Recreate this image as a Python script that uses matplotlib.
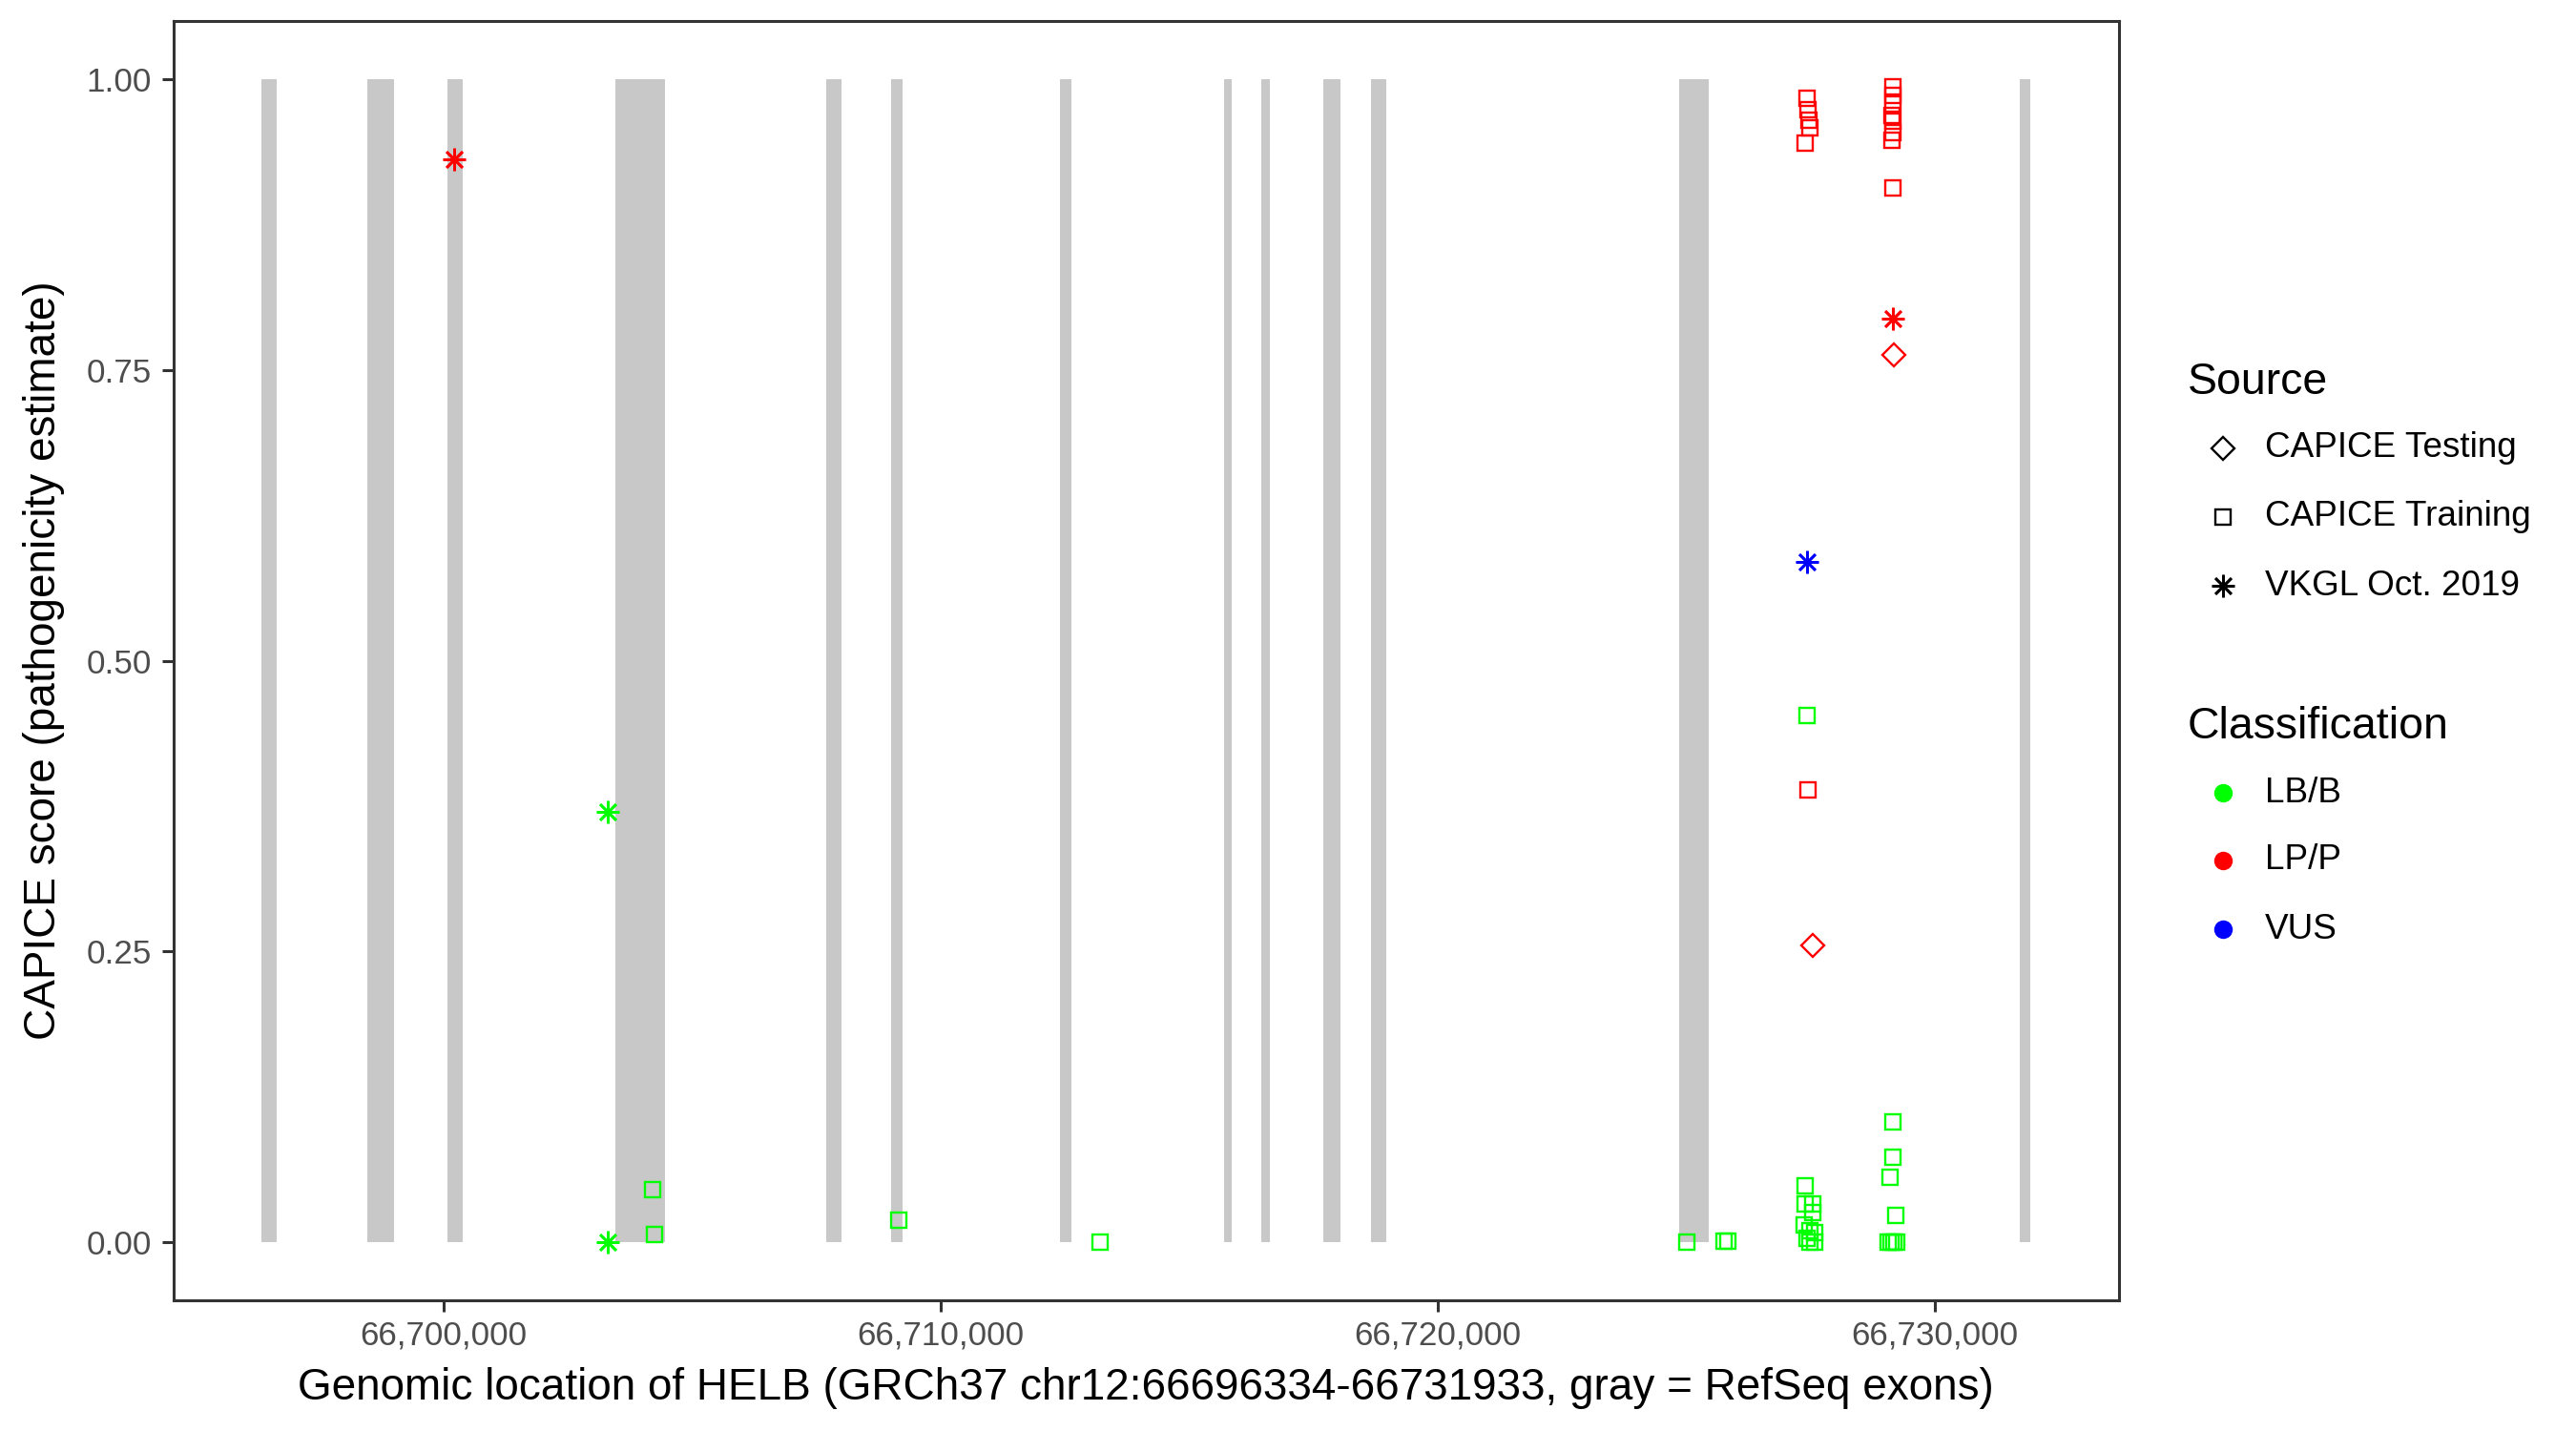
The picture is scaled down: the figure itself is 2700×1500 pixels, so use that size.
import matplotlib
matplotlib.use("Agg")
import matplotlib.pyplot as plt
from matplotlib.lines import Line2D
from matplotlib.ticker import FuncFormatter

plt.rcParams['font.family'] = ['Liberation Sans', 'DejaVu Sans']

# ---- data ----
gene_start = 66696334
gene_end = 66731933

exon_starts = [66696334, 66698460, 66700080, 66703443, 66707703, 66708992, 66712393,
               66715694, 66716453, 66717707, 66718666, 66724870, 66731723]
exon_ends = [66696640, 66698988, 66700370, 66704440, 66708002, 66709224, 66712623,
             66715859, 66716618, 66718037, 66718963, 66725464, 66731933]

sources = (["VKGL Oct. 2019"] * 3 + ["CAPICE Training"] * 7
           + ["CAPICE Training"] * 5 + ["VKGL Oct. 2019"] + ["CAPICE Training"] * 2
           + ["CAPICE Testing"] + ["CAPICE Training"] * 10
           + ["CAPICE Training"] * 8 + ["VKGL Oct. 2019"] + ["CAPICE Testing"]
           + ["CAPICE Training"] * 8)
classes = (["LP/P", "LB/B", "LB/B"] + ["LB/B"] * 7
           + ["LP/P"] * 5 + ["VUS"] + ["LB/B", "LP/P"]
           + ["LP/P"] + ["LB/B"] * 10
           + ["LP/P"] * 8 + ["LP/P"] + ["LP/P"]
           + ["LB/B"] * 8)
positions = ([66700200, 66703288, 66703288,
              66704204, 66704229, 66709151, 66713200, 66725008, 66725767, 66725832,
              66727442, 66727461, 66727481, 66727492, 66727397,
              66727442, 66727432, 66727460, 66727557,
              66727397, 66727397, 66727557, 66727557, 66727385, 66727492, 66727588,
              66727429, 66727492, 66727588,
              66729160, 66729168, 66729160, 66729150, 66729165, 66729170, 66729145,
              66729155, 66729168, 66729174,
              66729155, 66729155, 66729110, 66729212, 66729072, 66729122, 66729187,
              66729237])
scores = ([0.931, 0.370, 0.000,
           0.045, 0.006, 0.019, 0.000, 0.000, 0.001, 0.001,
           0.984, 0.974, 0.965, 0.958, 0.945,
           0.585, 0.453, 0.389, 0.255,
           0.048, 0.033, 0.033, 0.025, 0.015, 0.010, 0.008, 0.003, 0.000, 0.000,
           0.994, 0.986, 0.979, 0.969, 0.964, 0.954, 0.948, 0.907,
           0.794, 0.763,
           0.103, 0.073, 0.056, 0.023, 0.000, 0.000, 0.000, 0.000])

source_levels = ["CAPICE Testing", "CAPICE Training", "VKGL Oct. 2019"]
class_levels = ["LB/B", "LP/P", "VUS"]

y_ticks = [0.0, 0.25, 0.5, 0.75, 1.0]
x_ticks = [66700000, 66710000, 66720000, 66730000]

# ---- styles ----
class_colors = {"LB/B": "#00FF00", "LP/P": "#FF0000", "VUS": "#0000FF"}
source_markers = {"CAPICE Testing": "D", "CAPICE Training": "s", "VKGL Oct. 2019": (8, 2, 0)}
source_ms = {"CAPICE Testing": 5.9, "CAPICE Training": 5.9, "VKGL Oct. 2019": 8.5}
exon_color = "#C8C8C8"

W, H, DPI = 2700, 1500, 200
fig = plt.figure(figsize=(W / DPI, H / DPI), dpi=DPI)

# panel in pixel coords
pl, pr, pt, pb = 181.7, 2221.0, 22.4, 1362.7
ax = fig.add_axes([pl / W, 1 - pb / H, (pr - pl) / W, (pb - pt) / H])

# exons
for s, e in zip(exon_starts, exon_ends):
    ax.bar(s, 1.0, width=e - s, bottom=0, align='edge', color=exon_color, linewidth=0, zorder=1)

# points
for src, cls, x, y in zip(sources, classes, positions, scores):
    m = source_markers[src]
    col = class_colors[cls]
    if src == "VKGL Oct. 2019":
        ax.plot([x], [y], linestyle='none', marker=m, markersize=source_ms[src],
                markeredgecolor=col, markeredgewidth=0.95, zorder=3)
    else:
        ax.plot([x], [y], linestyle='none', marker=m, markersize=source_ms[src],
                markerfacecolor='none', markeredgecolor=col, markeredgewidth=0.85, zorder=3)

span = gene_end - gene_start
ax.set_xlim(gene_start - 0.05 * span, gene_end + 0.05 * span)
ax.set_ylim(-0.05, 1.05)
ax.set_xticks(x_ticks)
ax.set_yticks(y_ticks)
ax.xaxis.set_major_formatter(FuncFormatter(lambda v, p: f"{int(round(v)):,}"))
ax.yaxis.set_major_formatter(FuncFormatter(lambda v, p: f"{v:.2f}"))
ax.tick_params(axis='both', which='major', length=4.4, width=1.1, color='#333333',
               labelsize=12.6, labelcolor='#4D4D4D', direction='out')
ax.tick_params(axis='x', pad=3.0)
ax.tick_params(axis='y', pad=3.8)
for sp in ax.spines.values():
    sp.set_linewidth(1.1)
    sp.set_color('#333333')

ax.set_xlabel("Genomic location of HELB (GRCh37 chr12:66696334-66731933, gray = RefSeq exons)",
              fontsize=16.5, color='black', labelpad=6)
ax.set_ylabel("CAPICE score (pathogenicity estimate)", fontsize=16.5, color='black', labelpad=8)

# ---- legend (drawn in figure pixel coords) ----
def fx(px):
    return px / W

def fy(py):
    return 1 - py / H

fig.text(fx(2293), fy(401), "Source", fontsize=16.7, va='center', ha='left')
src_rows = [469.5, 541.5, 614.0]
for src, yy in zip(source_levels, src_rows):
    m = source_markers[src]
    if src == "VKGL Oct. 2019":
        fig.add_artist(Line2D([fx(2330)], [fy(yy)], transform=fig.transFigure, linestyle='none',
                              marker=m, markersize=source_ms[src], markeredgecolor='black',
                              markeredgewidth=0.95))
    else:
        fig.add_artist(Line2D([fx(2330)], [fy(yy)], transform=fig.transFigure, linestyle='none',
                              marker=m, markersize=source_ms[src], markerfacecolor='none',
                              markeredgecolor='black', markeredgewidth=0.85))
    fig.text(fx(2374), fy(yy), src, fontsize=13.3, va='center', ha='left')

fig.text(fx(2293), fy(762.5), "Classification", fontsize=16.7, va='center', ha='left')
cls_rows = [831.0, 901.5, 974.0]
for cls, yy in zip(class_levels, cls_rows):
    fig.add_artist(Line2D([fx(2330)], [fy(yy)], transform=fig.transFigure, linestyle='none',
                          marker='o', markersize=7.0, markerfacecolor=class_colors[cls],
                          markeredgecolor=class_colors[cls], markeredgewidth=0))
    fig.text(fx(2374), fy(yy), cls, fontsize=13.3, va='center', ha='left')

fig.savefig("out.png", dpi=DPI, facecolor='white')
